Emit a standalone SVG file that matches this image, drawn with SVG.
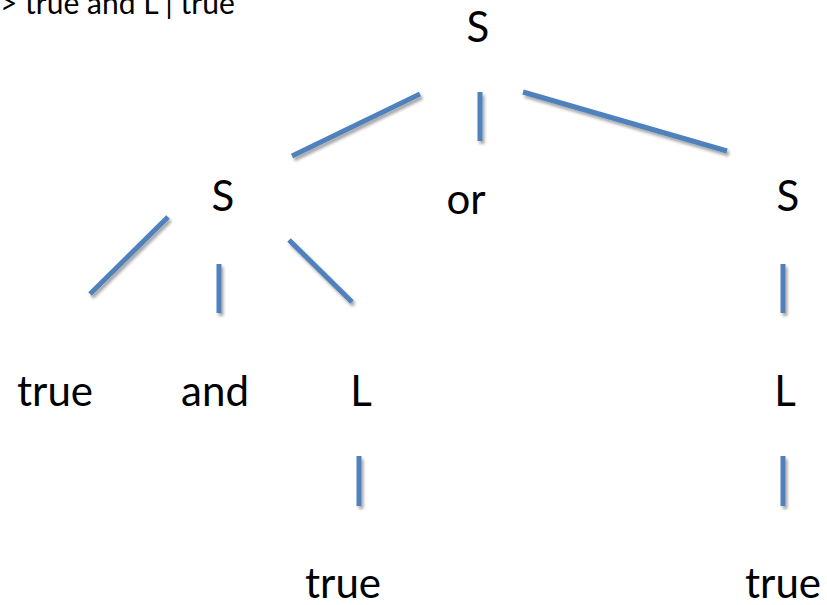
<svg xmlns="http://www.w3.org/2000/svg" width="827" height="605" viewBox="0 0 827 605">
  <defs>
    <filter id="shadow" x="-50%" y="-50%" width="200%" height="200%">
      <feGaussianBlur in="SourceAlpha" stdDeviation="1.5"/>
      <feOffset dx="1.5" dy="2.5" result="blur"/>
      <feComponentTransfer><feFuncA type="linear" slope="0.35"/></feComponentTransfer>
      <feMerge><feMergeNode/><feMergeNode in="SourceGraphic"/></feMerge>
    </filter>
  </defs>
  <style>
    .lbl { font-family: Lato, "Liberation Sans", sans-serif; font-size: 42px; fill: #000; }
    .hdr { font-family: Lato, "Liberation Sans", sans-serif; font-size: 30px; fill: #000; }
    .edge { stroke: #4F81BD; stroke-width: 5; fill: none; }
  </style>
  <rect width="827" height="605" fill="#fff"/>

  <text class="hdr" x="0" y="14">&gt; true and L | true</text>

  <g id="n-root"><text class="lbl" x="478" y="42" text-anchor="middle">S</text></g>
  <g id="n-s1"><text class="lbl" x="223" y="211" text-anchor="middle">S</text></g>
  <g id="n-or"><text class="lbl" x="466" y="214" text-anchor="middle">or</text></g>
  <g id="n-s2"><text class="lbl" x="788" y="211" text-anchor="middle">S</text></g>
  <g id="n-true1"><text class="lbl" x="55" y="406" text-anchor="middle">true</text></g>
  <g id="n-and"><text class="lbl" x="215" y="406" text-anchor="middle">and</text></g>
  <g id="n-l1"><text class="lbl" x="361" y="406" text-anchor="middle">L</text></g>
  <g id="n-l2"><text class="lbl" x="785" y="406" text-anchor="middle">L</text></g>
  <g id="n-true2"><text class="lbl" x="343" y="598" text-anchor="middle">true</text></g>
  <g id="n-true3"><text class="lbl" x="783" y="598" text-anchor="middle">true</text></g>

  <g id="edges" class="edge" filter="url(#shadow)">
    <line x1="292" y1="156" x2="420" y2="94"/>
    <line x1="480" y1="92" x2="480" y2="141"/>
    <line x1="523" y1="92" x2="727" y2="151"/>
    <line x1="90" y1="294" x2="168" y2="217"/>
    <line x1="219" y1="264" x2="219" y2="313"/>
    <line x1="289" y1="240" x2="352" y2="302"/>
    <line x1="783" y1="264" x2="783" y2="313"/>
    <line x1="359" y1="456" x2="359" y2="506"/>
    <line x1="783" y1="456" x2="783" y2="506"/>
  </g>
</svg>
